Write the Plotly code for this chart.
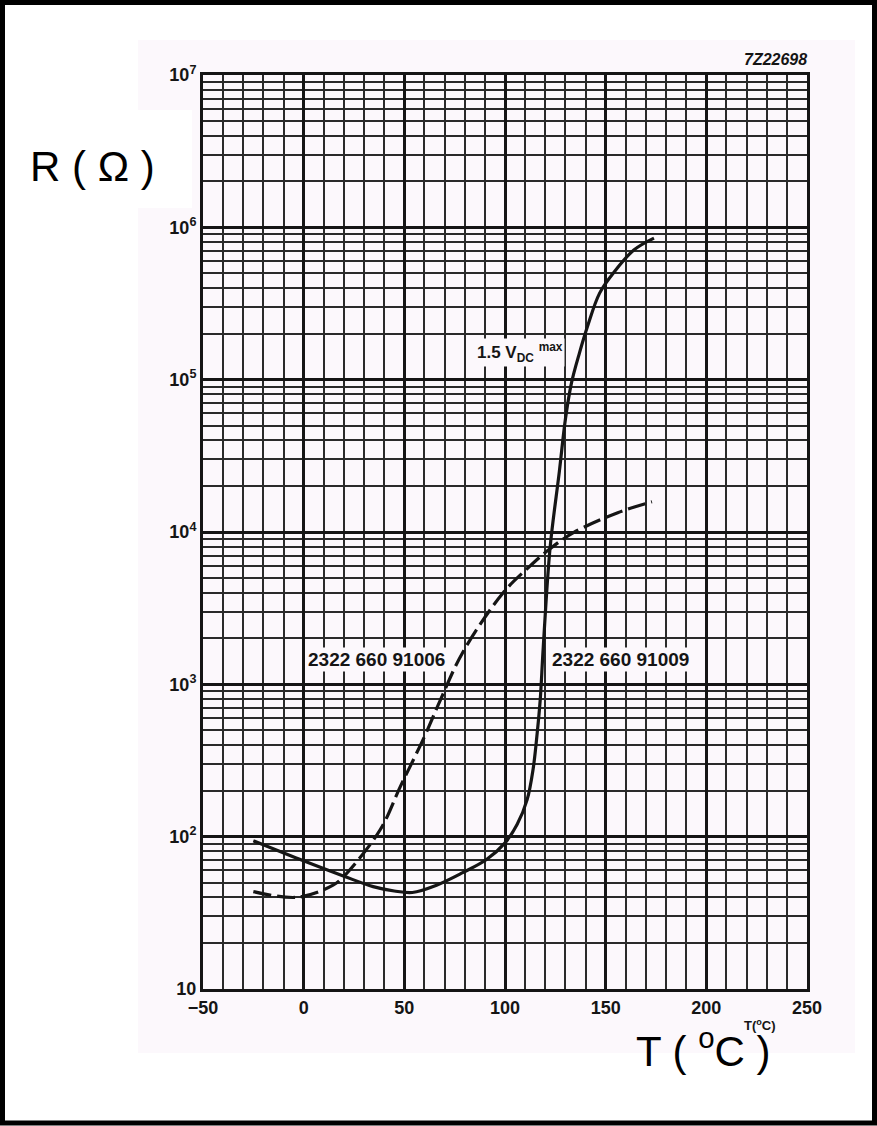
import plotly.graph_objects as go

# ---- data ----
t_91009 = [-25, -2, 20, 34.5, 45, 54, 66, 79, 91, 100, 106, 111, 114, 116, 117.5, 119, 122.4, 127, 130, 133, 137, 141, 147, 154, 164, 174]
r_91009 = [94, 71, 55, 47, 44, 43, 48, 58, 71, 91, 120, 175, 280, 480, 794, 1750, 7900, 25000, 55000, 95000, 150000, 224000, 370000, 505000, 710000, 850000]

t_91006 = [-25, -3, 14.6, 20, 38, 48, 60, 68, 79, 99, 112, 122, 134, 156, 173]
r_91006 = [43.6, 40, 48, 55, 111, 213, 454, 794, 1620, 3980, 5900, 7700, 9900, 13400, 15800]

x_ticks = [-50, 0, 50, 100, 150, 200, 250]
x_ticklabels = ["\u221250", "0", "50", "100", "150", "200", "250"]
y_ticks = [10, 100, 1000, 10000, 100000, 1000000, 10000000]
y_ticklabels = ["10", "10<sup>2</sup>", "10<sup>3</sup>", "10<sup>4</sup>", "10<sup>5</sup>", "10<sup>6</sup>", "10<sup>7</sup>"]

W, H = 877, 1126
L, R, T, B = 203, 70, 75, 137
PW, PH = W - L - R, H - T - B


def px(x):
    return (x - L) / PW


def py(y):
    return (H - B - y) / PH


BG = "#fcf8fc"
INK = "#151515"
FONT = "Liberation Sans, Arial, sans-serif"

minor_y = [k * 10 ** d for d in range(1, 7) for k in range(2, 10)]

fig = go.Figure()
fig.add_trace(go.Scatter(x=t_91009, y=r_91009, mode="lines",
                         line=dict(color=INK, width=3.2, shape="spline", smoothing=1.0),
                         showlegend=False, hoverinfo="skip"))
fig.add_trace(go.Scatter(x=t_91006, y=r_91006, mode="lines",
                         line=dict(color=INK, width=3.2, shape="spline", smoothing=1.0, dash="18px,6px"),
                         showlegend=False, hoverinfo="skip"))

fig.update_xaxes(range=[-50, 250], tickvals=x_ticks, ticktext=x_ticklabels,
                 showgrid=True, gridcolor=INK, gridwidth=3, zeroline=False,
                 showline=True, linecolor=INK, linewidth=3, mirror=True,
                 ticks="", tickfont=dict(family=FONT, size=18, color=INK, weight="bold"),
                 minor=dict(dtick=10, showgrid=True, gridcolor="#2a2a2a", gridwidth=2, ticks=""))
fig.update_yaxes(type="log", range=[1, 7], tickvals=y_ticks, ticktext=y_ticklabels,
                 showgrid=True, gridcolor=INK, gridwidth=2.5, zeroline=False,
                 showline=True, linecolor=INK, linewidth=3, mirror=True,
                 ticks="", tickfont=dict(family=FONT, size=18, color=INK, weight="bold"),
                 minor=dict(tickvals=minor_y, showgrid=True, gridcolor="#2a2a2a", gridwidth=2, ticks=""))

shapes = [
    # light scanned-page region
    dict(type="rect", xref="paper", yref="paper", x0=px(138), x1=px(855), y0=py(1053), y1=py(40),
         fillcolor=BG, line=dict(width=0), layer="below"),
    # white patch behind the R label
    dict(type="rect", xref="paper", yref="paper", x0=px(130), x1=px(192), y0=py(208), y1=py(110),
         fillcolor="white", line=dict(width=0), layer="below"),
    # outer black frame
    dict(type="rect", xref="paper", yref="paper", x0=px(2.5), x1=px(W - 2.5), y0=py(H - 3), y1=py(2.5),
         fillcolor="rgba(0,0,0,0)", line=dict(color="black", width=5), layer="above"),
]

annotations = [
    dict(text="R ( \u03a9 )", xref="paper", yref="paper", x=px(92), y=py(166), showarrow=False,
         font=dict(family=FONT, size=42, color="black"), xanchor="center", yanchor="middle"),
    dict(text="T ( <sup>o</sup>C )", xref="paper", yref="paper", x=px(703), y=py(1048), showarrow=False,
         font=dict(family=FONT, size=42, color="black"), xanchor="center", yanchor="middle"),
    dict(text="T(<sup>o</sup>C)", xref="paper", yref="paper", x=px(760), y=py(1025), showarrow=False,
         font=dict(family=FONT, size=13, color=INK, weight="bold"), xanchor="center", yanchor="middle"),
    dict(text="<i>7Z22698</i>", xref="paper", yref="paper", x=px(809), y=py(59), showarrow=False,
         font=dict(family=FONT, size=16, color=INK, weight="bold"), xanchor="right", yanchor="middle"),
    dict(text="2322 660 91006", x=36.4, y=3.16, showarrow=False, bgcolor=BG, borderpad=1,
         font=dict(family=FONT, size=19, color=INK, weight="bold"), xanchor="center", yanchor="middle"),
    dict(text="2322 660 91009", x=157.6, y=3.16, showarrow=False, bgcolor=BG, borderpad=1,
         font=dict(family=FONT, size=19, color=INK, weight="bold"), xanchor="center", yanchor="middle"),
    dict(text="1.5 V<sub>DC</sub> <sup>max</sup>", x=107.5, y=5.18, showarrow=False, bgcolor=BG, borderpad=1,
         font=dict(family=FONT, size=17, color=INK, weight="bold"), xanchor="center", yanchor="middle"),
]

fig.update_layout(width=W, height=H, autosize=False,
                  margin=dict(l=L, r=R, t=T, b=B, pad=0),
                  paper_bgcolor="white", plot_bgcolor=BG,
                  shapes=shapes, annotations=annotations, showlegend=False)

fig.write_html("out.html")
